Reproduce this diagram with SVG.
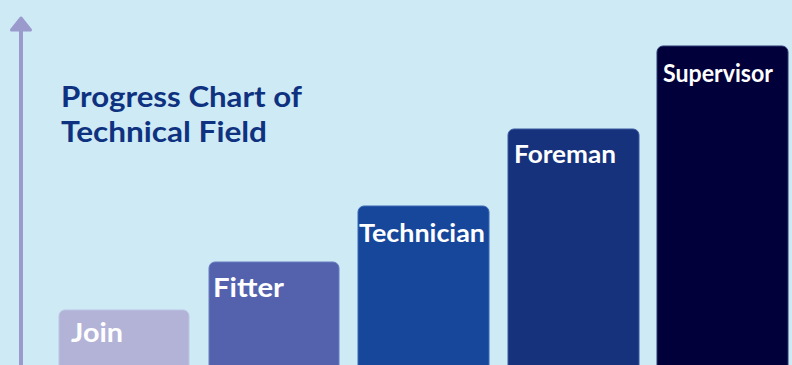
<svg xmlns="http://www.w3.org/2000/svg" width="792" height="365" viewBox="0 0 792 365">
<style>
.bg{fill:#cdeaf5}
.lbl{font-family:Lato,"Open Sans",sans-serif;font-weight:700;font-size:24px;fill:#ffffff}
.big{font-size:27px}
.title{font-family:Lato,"Open Sans",sans-serif;font-weight:700;font-size:29px;fill:#0f3280}
.bar{stroke-width:1}
</style>
<rect class="bg" x="0" y="0" width="792" height="365"/>
<g id="axis">
<line x1="21" y1="26" x2="21" y2="365" stroke="#9a9acc" stroke-width="4"/>
<path d="M21 18 L30.5 30 L11.5 30 Z" fill="#9a9acc" stroke="#9a9acc" stroke-width="3" stroke-linejoin="round"/>
</g>
<g id="title">
<text class="title" x="61" y="107" textLength="241" lengthAdjust="spacingAndGlyphs">Progress Chart of</text>
<text class="title" x="61" y="142" textLength="206" lengthAdjust="spacingAndGlyphs">Technical Field</text>
</g>
<g id="join">
<rect class="bar" x="59" y="310" width="130" height="65" rx="6" fill="#b3b3d8" stroke="#bcc4e2"/>
<text class="lbl big" x="71" y="342" textLength="52" lengthAdjust="spacingAndGlyphs">Join</text>
</g>
<g id="fitter">
<rect class="bar" x="209" y="262" width="130" height="113" rx="6" fill="#5462ae" stroke="#6a7cc0"/>
<text class="lbl big" x="213" y="297" textLength="71" lengthAdjust="spacingAndGlyphs">Fitter</text>
</g>
<g id="technician">
<rect class="bar" x="358" y="206" width="131" height="169" rx="6" fill="#17479a" stroke="#3a68b4"/>
<text class="lbl" x="359" y="242" textLength="126" lengthAdjust="spacingAndGlyphs">Technician</text>
</g>
<g id="foreman">
<rect class="bar" x="508" y="129" width="131" height="246" rx="6" fill="#16327c" stroke="#3a58a0"/>
<text class="lbl" x="514" y="163" textLength="102" lengthAdjust="spacingAndGlyphs">Foreman</text>
</g>
<g id="supervisor">
<rect class="bar" x="657" y="46" width="131" height="329" rx="6" fill="#02003a" stroke="#2a3a70"/>
<text class="lbl" x="663" y="82" textLength="110" lengthAdjust="spacingAndGlyphs">Supervisor</text>
</g>
</svg>
